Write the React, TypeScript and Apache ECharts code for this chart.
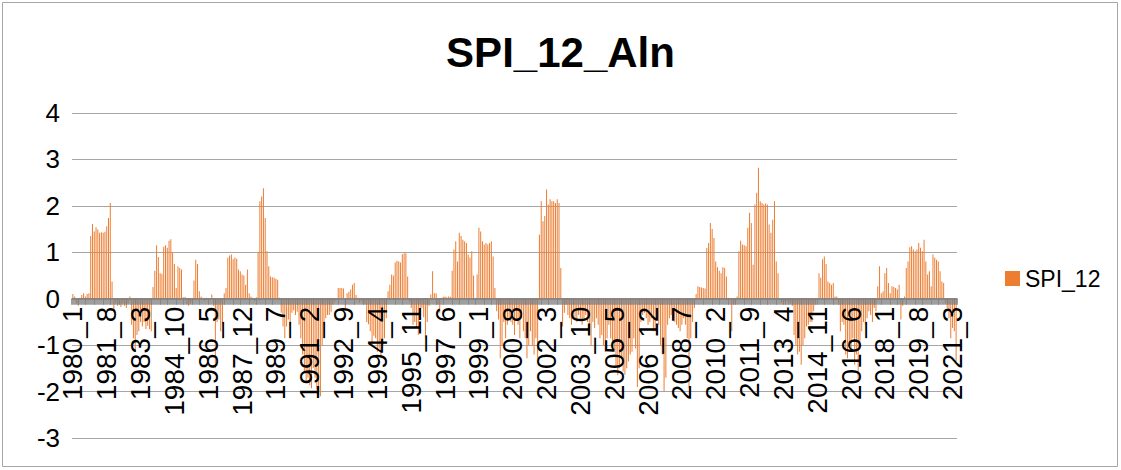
import React, { useEffect, useRef } from "react";
import * as echarts from "echarts";

// SPI_12 monthly values (Jan of each year onwards)
const spi1980s = [
  0.1, 0.05, -0.1, -0.15, 0.02, 0.08, 0.12, 0.05, 0.1, 0.12, 1.35, 1.61,
  1.45, 1.54, 1.49, 1.42, 1.43, 1.42, 1.44, 1.56, 1.74, 2.06, 0.37, -0.29,
  -0.1, -0.15, -0.12, -0.18, -0.1, -0.15, -0.2, -0.1, 0.05, -0.56, -0.85, -1.14,
  -0.78, -0.7, -0.5, -0.6, -0.5, -0.65, -0.58, -0.65, -0.7, 0.25, 0.6, 1.15,
  0.9, 0.55, 0.53, 1.12, 1.15, 1.1, 1.25, 1.28, 1.0, 0.75, 0.23, 0.7,
  0.66, 0.63, 0.03, 0.04, -0.12, -0.15, -0.1, -0.05, 0.39, 0.84, 0.75, 0.16,
  0.05, 0.02, -0.05, 0.02, -0.03, 0.0, 0.09, -0.15, -1.5, -0.5, -0.45, -0.7,
  -0.55, 0.12, 0.23, 0.88, 0.93, 0.95, 0.85, 0.89, 0.86, 0.63, 0.59, 0.52,
  0.5, 0.3, 0.63, 0.12, 0.05, 0.02, -0.05, 0.03, 1.0, 2.1, 2.2, 2.38,
  1.74, 1.02, 0.7, 0.48, 0.46, 0.45, 0.43, 0.41, 0.02, -0.3, -0.6, -0.85,
];
const spi1990s = [
  -0.6, -0.45, -0.56, -0.3, -0.25, -0.35, -0.28, -0.56, -0.85, -1.2, -1.57, -1.78,
  -1.7, -1.86, -1.93, -1.5, -1.7, -1.95, -2.07, -2.1, -1.0, -0.56, -0.42, -0.35,
  -0.35, -0.28, -0.13, -0.06, 0.01, 0.23, 0.23, 0.23, 0.22, -0.2, 0.12, 0.15,
  0.2, 0.3, 0.34, 0.08, 0.02, -0.08, -0.05, -0.1, -0.12, -0.5, -0.55, -0.7,
  -1.0, -0.8, -0.85, -1.14, -1.07, -1.28, -1.0, -0.85, -0.42, 0.16, 0.3, 0.52,
  0.5, 0.78, 0.82, 0.8, 0.78, 0.96, 0.98, 0.98, 0.48, -0.06, -0.2, -0.56,
  -0.5, -0.63, -0.78, -0.42, -0.2, -0.4, -0.85, -0.5, -0.15, 0.09, 0.59, 0.12,
  0.12, -0.13, -0.3, 0.02, 0.04, 0.05, 0.03, 0.05, 0.04, 0.6, 1.06, 1.24,
  0.8, 1.42, 1.35, 1.27, 1.24, 1.2, 0.95, 0.88, 1.02, 0.5, 0.01, 0.52,
  1.53, 1.45, 1.24, 1.17, 1.2, 1.17, 1.2, 1.24, 0.91, 0.23, -0.27, -0.45,
];
const spi2000s = [
  -1.28, -1.0, -0.5, -0.85, -0.56, -0.42, -0.5, -0.56, -0.78, -0.42, -0.56, -0.85,
  -0.42, -0.7, -0.85, -1.28, -1.0, -0.7, -1.0, -1.2, -0.85, -1.28, 1.38, 2.1,
  1.67, 1.78, 2.35, 2.03, 2.14, 2.1, 2.1, 2.06, 2.14, 2.06, 0.66, -0.6,
  -0.3, -0.13, -0.35, -0.42, -0.56, -0.42, -0.42, -0.5, -0.35, -0.42, -0.56, -0.42,
  -0.35, -0.5, -0.78, -1.0, -0.5, -0.63, -0.42, -0.56, -0.85, -0.78, -1.0, -1.14,
  -0.85, -0.56, -0.85, -1.14, -1.1, -1.45, -1.65, -1.5, -1.28, -1.57, -1.64, -1.5,
  -1.35, -1.2, -1.14, -0.85, -1.07, -1.9, -1.5, -0.5, -0.35, -0.3, -0.42, -0.56,
  -0.5, -0.42, -0.7, -0.7, -0.42, -0.56, -1.0, -1.2, -2.0, -1.7, -0.56, -0.42,
  -0.35, -0.42, -0.5, -0.56, -0.63, -0.7, -0.56, -0.42, -0.56, -0.85, -1.93, -0.85,
  -0.5, -0.2, 0.1, 0.27, 0.25, 0.24, 0.23, 0.22, 1.09, 1.2, 1.63, 1.5,
];
const spi2010s = [
  1.31, 0.8, 0.68, 0.6, 0.55, 0.68, 0.66, 0.48, 0.02, 0.01, -0.7, -0.13,
  -0.1, 0.05, 1.02, 1.25, 1.17, 1.15, 1.13, 1.53, 1.85, 1.63, 0.73, 2.03,
  2.28, 2.82, 2.1, 2.06, 2.03, 2.05, 2.03, 1.6, 1.42, 1.7, 2.1, 0.8,
  0.55, 0.0, -0.08, -0.13, -0.05, -0.06, -0.13, -0.1, -0.15, -0.78, -1.0, -1.2,
  -1.14, -1.42, -1.0, -0.85, -0.6, -0.56, -0.5, -0.5, -0.27, -0.13, 0.01, 0.55,
  0.45, 0.85, 0.91, 0.75, 0.37, 0.34, 0.3, 0.34, 0.05, 0.05, -0.13, -0.7,
  -0.5, -0.56, -1.2, -1.28, -1.0, -1.14, -0.85, -1.42, -1.2, -1.78, -0.92, -0.7,
  -0.5, -0.56, -0.42, -0.27, -0.35, -0.5, -0.2, -0.27, 0.27, 0.7, 0.12, 0.16,
  0.55, 0.66, 0.34, 0.12, 0.27, 0.25, 0.23, 0.2, 0.3, -0.45, -0.15, 0.05,
  0.66, 0.8, 1.11, 1.13, 1.06, 1.02, 1.06, 1.2, 1.1, 1.02, 1.27, 0.8,
];
const spi2020s = [
  0.52, 0.59, 0.27, 0.95, 0.88, 0.84, 0.8, 0.59, 0.37, 0.34, -0.1, -0.2,
  -0.42, -0.85, -0.63, -0.7, -1.35,
];

const spiValues = [...spi1980s, ...spi1990s, ...spi2000s, ...spi2010s, ...spi2020s];

const startYear = 1980;
const categories = spiValues.map((_, i) => `${startYear + Math.floor(i / 12)}_${(i % 12) + 1}`);

const yTicks = { min: -3, max: 4, interval: 1 };

const FONT = "'Liberation Sans', Arial, sans-serif";

const GRID_TOP = 113;
const GRID_BOTTOM_Y = 438;

export default function App() {
  const ref = useRef<HTMLDivElement>(null);
  useEffect(() => {
    document.body.style.margin = "0";
    const chart = echarts.init(ref.current!, undefined, { renderer: "svg" });
    // distance of the value 0 above the bottom of the plot
    const zeroOffset =
      ((0 - yTicks.min) / (yTicks.max - yTicks.min)) * (GRID_BOTTOM_Y - GRID_TOP);
    chart.setOption({
      animation: false,
      backgroundColor: "#ffffff",
      title: {
        text: "SPI_12_Aln",
        left: "center",
        top: 26,
        textStyle: { fontFamily: FONT, fontSize: 42, fontWeight: "bold", color: "#000" },
      },
      legend: {
        left: 1000,
        top: 262,
        icon: "rect",
        itemWidth: 15,
        itemHeight: 15,
        textStyle: { fontFamily: FONT, fontSize: 23, color: "#000" },
        data: ["SPI_12"],
      },
      graphic: [
        {
          type: "rect",
          shape: { x: 2.5, y: 2.5, width: 1115, height: 464 },
          style: { fill: "none", stroke: "#a6a6a6", lineWidth: 1 },
          silent: true,
        },
      ],
      grid: { left: 72, right: 164, top: GRID_TOP, bottom: 470 - GRID_BOTTOM_Y, containLabel: false },
      xAxis: {
        type: "category",
        data: categories,
        position: "bottom",
        offset: -zeroOffset,
        z: 5,
        axisLine: { show: true, onZero: false, lineStyle: { color: "#808080", width: 1.5 } },
        axisTick: { show: true, interval: 0, length: 6, lineStyle: { color: "#7f7f7f", width: 1.5 } },
        axisLabel: {
          interval: 18,
          rotate: 90,
          margin: 8,
          fontFamily: FONT,
          fontSize: 28,
          color: "#000",
        },
        splitLine: { show: false },
      },
      yAxis: {
        type: "value",
        min: yTicks.min,
        max: yTicks.max,
        interval: yTicks.interval,
        axisLine: { show: false },
        axisTick: { show: false },
        axisLabel: { fontFamily: FONT, fontSize: 26, color: "#000", margin: 12 },
        splitLine: { lineStyle: { color: "#a6a6a6", width: 1 } },
      },
      series: [
        {
          name: "SPI_12",
          type: "bar",
          data: spiValues,
          barCategoryGap: "55%",
          itemStyle: { color: "#ED7D31" },
        },
      ],
    });
    return () => chart.dispose();
  }, []);
  return <div ref={ref} style={{ width: 1121, height: 470 }} />;
}
